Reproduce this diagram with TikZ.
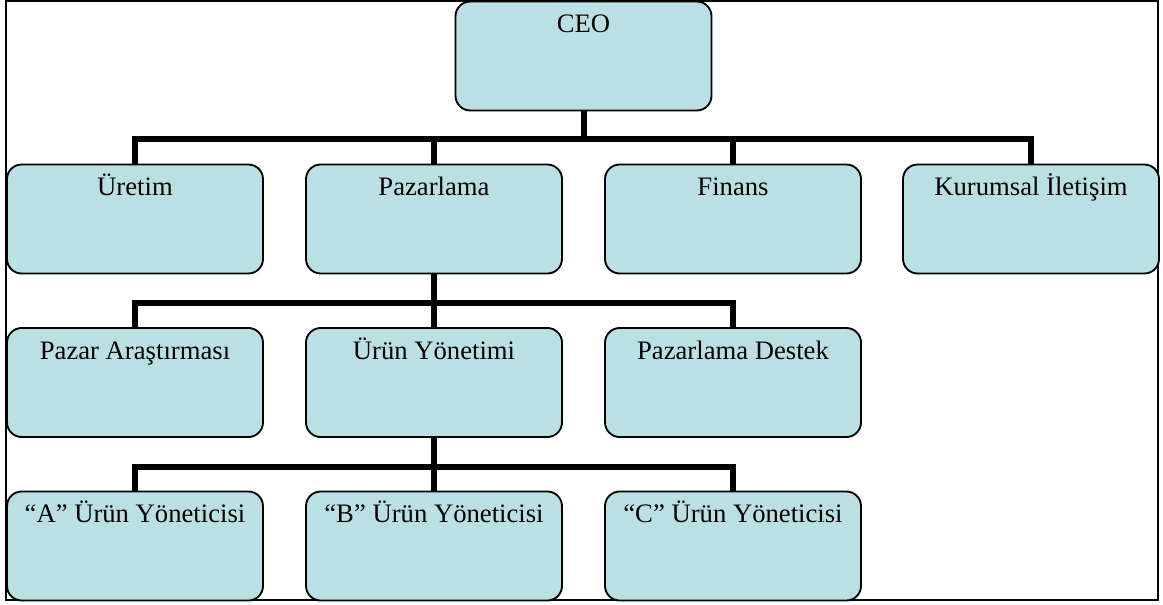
\documentclass[tikz,border=0pt]{standalone}
\usepackage{fontspec}
\setmainfont{Liberation Serif}
\begin{document}
\begin{tikzpicture}[x=0.75pt,y=-0.75pt,
  unit/.style={draw=black, line width=1.4pt, fill=boxfill,
    rounded corners=11pt, minimum width=192pt, minimum height=81.75pt,
    inner ysep=6.45pt, text height=16.8pt, text depth=52pt,
    font=\fontsize{20}{24}\selectfont},
  conn/.style={line width=4.5pt, line join=miter, line cap=butt}]
\definecolor{boxfill}{RGB}{187,224,227}
\useasboundingbox (0,0) rectangle (1163,604);
\draw[line width=1.1pt] (6,1) rectangle (1158,600);

% top level
\node[unit, minimum height=81pt] (ceo) at (583.5,56) {CEO};

% departments
\node[unit] (uretim)  at (135,219)  {Üretim};
\node[unit] (paz)     at (434,219)  {Pazarlama};
\node[unit] (finans)  at (733,219)  {Finans};
\node[unit] (kurum)   at (1031,219) {Kurumsal İletişim};

% marketing sub-units
\node[unit] (arastir) at (135,382.5) {Pazar Araştırması};
\node[unit] (urunyon) at (434,382.5) {Ürün Yönetimi};
\node[unit] (destek)  at (733,382.5) {Pazarlama Destek};

% product managers
\node[unit] (ya) at (135,546) {“A” Ürün Yöneticisi};
\node[unit] (yb) at (434,546) {“B” Ürün Yöneticisi};
\node[unit] (yc) at (733,546) {“C” Ürün Yöneticisi};

% bus levels
\coordinate (bus1) at (0,139);
\coordinate (bus2) at (0,303);
\coordinate (bus3) at (0,467);

\foreach \c in {uretim,paz,finans,kurum}
  \draw[conn] (ceo.south) -- (ceo.south |- bus1) -| (\c.north);
\foreach \c in {arastir,urunyon,destek}
  \draw[conn] (paz.south) -- (paz.south |- bus2) -| (\c.north);
\foreach \c in {ya,yb,yc}
  \draw[conn] (urunyon.south) -- (urunyon.south |- bus3) -| (\c.north);
\end{tikzpicture}
\end{document}
